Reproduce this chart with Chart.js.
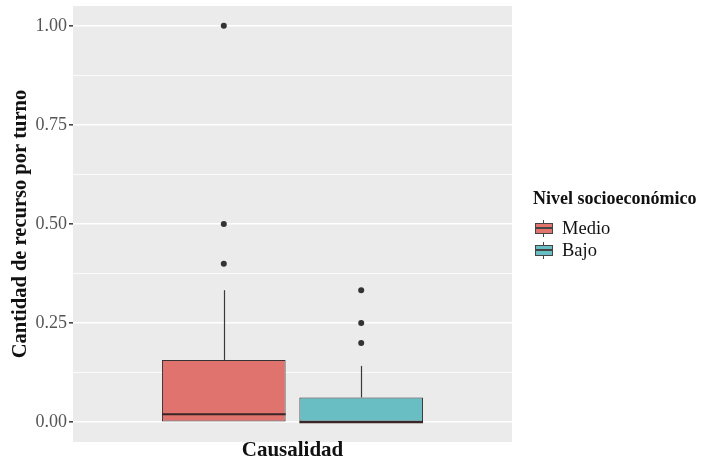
<!DOCTYPE html>
<html lang="es">
<head>
  <meta charset="UTF-8">
  <title>Cantidad de recurso por turno</title>
  <script src="https://cdn.jsdelivr.net/npm/chart.js"></script>
  <style>
    body {
      margin: 0;
      background: white;
      font-family: "Liberation Serif", serif;
    }
    #wrap {
      position: relative;
      width: 701px;
      height: 466px;
    }
    .legend {
      position: absolute;
      left: 533px;
      top: 187px;
      color: #111;
    }
    .legend .title {
      font-weight: bold;
      font-size: 18px;
      line-height: 22px;
      margin-bottom: 8px;
    }
    .legend .item {
      display: flex;
      align-items: center;
      height: 22px;
      font-size: 18.5px;
    }
    .icon {
      position: relative;
      width: 18px;
      height: 17px;
      margin-right: 9px;
      margin-left: 2px;
    }
    .icon .whisk {
      position: absolute;
      left: 8px;
      top: 0;
      width: 1px;
      height: 17px;
      background: #444;
    }
    .icon .box {
      position: absolute;
      left: 0;
      top: 3px;
      width: 16px;
      height: 9px;
      border: 1px solid #444;
    }
    .icon .mid {
      position: absolute;
      left: 0;
      top: 7px;
      width: 18px;
      height: 2px;
      background: #444;
    }
  </style>
</head>
<body>
  <div id="wrap">
    <canvas id="miCanvas" width="701" height="466"></canvas>
    <div class="legend" id="leyenda">
      <div class="title">Nivel socioeconómico</div>
    </div>
  </div>

  <script>
    const categorias = ["Causalidad"];
    const grupos = ["Medio", "Bajo"];
    const colores = ["#E0736D", "#68BEC3"];
    const q1 = [0, 0];
    const mediana = [0.02, 0];
    const q3 = [0.157, 0.0625];
    const bigoteBajo = [0, 0];
    const bigoteAlto = [0.333, 0.142];
    const atipicos = [[0.4, 0.5, 1.0], [0.2, 0.25, 0.333]];
    const yTicks = [0, 0.125, 0.25, 0.375, 0.5, 0.625, 0.75, 0.875, 1];

    const leyenda = document.getElementById("leyenda");
    grupos.forEach((g, i) => {
      const item = document.createElement("div");
      item.className = "item";
      item.innerHTML = `<div class="icon"><div class="whisk"></div><div class="box" style="background:${colores[i]}"></div><div class="mid"></div></div>${g}`;
      leyenda.appendChild(item);
    });

    const esMayor = v => Math.abs((v * 4) - Math.round(v * 4)) < 1e-6;

    const fondoPanel = {
      id: "fondoPanel",
      beforeDraw(chart) {
        const { ctx, chartArea } = chart;
        ctx.save();
        ctx.fillStyle = "#EBEBEB";
        ctx.fillRect(chartArea.left, chartArea.top, chartArea.right - chartArea.left, chartArea.bottom - chartArea.top);
        ctx.restore();
      }
    };

    const cajas = {
      id: "cajas",
      beforeDatasetsDraw(chart) {
        // bigotes debajo de la caja
        const { ctx } = chart;
        const y = chart.scales.y;
        ctx.save();
        ctx.strokeStyle = "#3a3a3a";
        ctx.lineWidth = 1.2;
        grupos.forEach((g, i) => {
          const bar = chart.getDatasetMeta(i).data[0];
          const x = Math.round(bar.x) + 0.5;
          ctx.beginPath();
          ctx.moveTo(x, y.getPixelForValue(q3[i]));
          ctx.lineTo(x, y.getPixelForValue(bigoteAlto[i]));
          ctx.moveTo(x, y.getPixelForValue(q1[i]));
          ctx.lineTo(x, y.getPixelForValue(bigoteBajo[i]));
          ctx.stroke();
        });
        ctx.restore();
      },
      afterDatasetsDraw(chart) {
        const { ctx } = chart;
        const y = chart.scales.y;
        ctx.save();
        grupos.forEach((g, i) => {
          const bar = chart.getDatasetMeta(i).data[0];
          const half = bar.width / 2;
          const ym = y.getPixelForValue(mediana[i]);
          ctx.strokeStyle = "#3a2626";
          ctx.lineWidth = 2.2;
          ctx.beginPath();
          ctx.moveTo(bar.x - half, ym);
          ctx.lineTo(bar.x + half, ym);
          ctx.stroke();
          ctx.fillStyle = "#333";
          atipicos[i].forEach(v => {
            ctx.beginPath();
            ctx.arc(bar.x, y.getPixelForValue(v), 3, 0, Math.PI * 2);
            ctx.fill();
          });
        });
        ctx.restore();
      }
    };

    new Chart(document.getElementById("miCanvas").getContext("2d"), {
      type: "bar",
      data: {
        labels: categorias,
        datasets: grupos.map((g, i) => ({
          label: g,
          data: [[q1[i], q3[i]]],
          backgroundColor: colores[i],
          borderColor: "#333",
          borderWidth: 1,
          borderSkipped: false,
          categoryPercentage: 0.626,
          barPercentage: 0.90
        }))
      },
      options: {
        responsive: false,
        animation: false,
        layout: { padding: { top: 6, right: 189, left: 0, bottom: 0 } },
        plugins: {
          legend: { display: false },
          tooltip: { enabled: false }
        },
        scales: {
          x: {
            grid: { display: false },
            border: { display: false },
            ticks: { display: false },
            title: {
              display: true,
              text: "Causalidad",
              color: "#111",
              font: { family: "Liberation Serif", size: 21, weight: "bold" },
              padding: { top: 0, bottom: 2.5 }
            },
            afterFit(scale) { scale.height = 24; }
          },
          y: {
            min: -0.05,
            max: 1.05,
            afterBuildTicks(scale) {
              scale.ticks = yTicks.map(v => ({ value: v }));
            },
            border: { display: false },
            grid: {
              color: "#FFFFFF",
              lineWidth: ctx => esMayor(ctx.tick.value) ? 1.6 : 0.8,
              tickColor: ctx => esMayor(ctx.tick.value) ? "#444" : "rgba(0,0,0,0)",
              tickLength: 4,
              drawTicks: true
            },
            ticks: {
              color: "#555",
              padding: 2,
              font: { family: "Liberation Serif", size: 18 },
              callback: v => esMayor(v) ? v.toFixed(2) : ""
            },
            title: {
              display: true,
              text: "Cantidad de recurso por turno",
              color: "#111",
              font: { family: "Liberation Serif", size: 20.5, weight: "bold" },
              padding: { top: 8, bottom: 0 }
            },
            afterFit(scale) {
              scale.width = 73;
              scale.paddingTop = 0;
              scale.paddingBottom = 0;
            }
          }
        }
      },
      plugins: [fondoPanel, cajas]
    });
  </script>
</body>
</html>
